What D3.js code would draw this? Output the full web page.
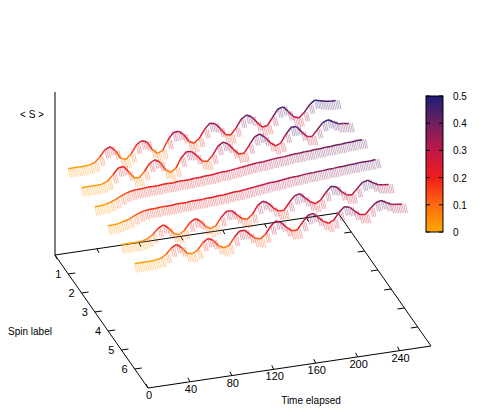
<!DOCTYPE html>
<html><head><meta charset="utf-8">
<script src="https://cdn.jsdelivr.net/npm/d3@7"></script>
<style>body{margin:0;background:#fff}text{font-family:"Liberation Sans",Arial,sans-serif;font-size:11px;fill:#000}</style>
</head><body><svg id="c" width="485" height="415"></svg>
<script>
// time samples every 5 units
const times = d3.range(0, 260, 5);
const spinLabels = [1, 2, 3, 4, 5, 6];
const timeTicks = [0, 40, 80, 120, 160, 200, 240];
const cbTicks = [0, 0.1, 0.2, 0.3, 0.4, 0.5];

const spin1 = [0.02,0.02,0.02,0.02,0.03,0.05,0.12,0.22,0.25,0.18,0.06,0.03,0.10,0.22,0.27,0.24,0.12,0.05,0.08,0.22,0.32,0.33,0.27,0.16,0.12,0.18,0.30,0.38,0.36,0.28,0.18,0.16,0.25,0.37,0.42,0.38,0.29,0.21,0.22,0.33,0.44,0.46,0.38,0.29,0.26,0.33,0.43,0.49,0.47,0.45,0.44,0.44];
const spin2 = [0.02,0.02,0.02,0.02,0.03,0.06,0.14,0.23,0.24,0.15,0.05,0.04,0.12,0.23,0.27,0.22,0.10,0.05,0.10,0.24,0.32,0.31,0.24,0.15,0.13,0.21,0.33,0.38,0.34,0.25,0.17,0.17,0.28,0.39,0.42,0.36,0.27,0.21,0.24,0.36,0.45,0.45,0.36,0.28,0.27,0.36,0.45,0.48,0.44,0.40,0.39,0.38];
const spin3 = [0.02,0.02,0.03,0.05,0.08,0.12,0.15,0.17,0.18,0.18,0.19,0.19,0.19,0.20,0.20,0.20,0.21,0.21,0.21,0.22,0.22,0.23,0.23,0.24,0.25,0.25,0.26,0.27,0.28,0.29,0.30,0.31,0.31,0.32,0.33,0.34,0.34,0.35,0.36,0.36,0.37,0.37,0.38,0.38,0.39,0.39,0.40,0.40,0.41,0.41,0.42,0.42];
const spin4 = [0.02,0.02,0.03,0.05,0.07,0.11,0.14,0.16,0.17,0.17,0.18,0.18,0.18,0.19,0.19,0.19,0.20,0.20,0.20,0.21,0.21,0.22,0.22,0.23,0.24,0.24,0.25,0.26,0.27,0.28,0.29,0.30,0.30,0.31,0.32,0.33,0.33,0.34,0.35,0.35,0.36,0.36,0.37,0.37,0.38,0.38,0.39,0.39,0.40,0.40,0.40,0.41];
const spin5 = [0.02,0.02,0.02,0.02,0.03,0.05,0.10,0.18,0.22,0.16,0.07,0.04,0.09,0.19,0.24,0.20,0.11,0.06,0.09,0.20,0.28,0.28,0.21,0.14,0.12,0.18,0.30,0.35,0.31,0.23,0.17,0.17,0.27,0.36,0.38,0.31,0.24,0.20,0.24,0.34,0.42,0.40,0.32,0.26,0.25,0.33,0.41,0.43,0.38,0.34,0.33,0.32];
const spin6 = [0.02,0.02,0.02,0.02,0.03,0.04,0.09,0.17,0.21,0.15,0.06,0.04,0.08,0.18,0.23,0.19,0.10,0.06,0.08,0.19,0.27,0.27,0.20,0.13,0.11,0.17,0.28,0.34,0.30,0.22,0.16,0.16,0.26,0.35,0.37,0.30,0.23,0.19,0.23,0.33,0.40,0.38,0.31,0.25,0.24,0.32,0.39,0.41,0.37,0.33,0.32,0.31];
const series = [spin1, spin2, spin3, spin4, spin5, spin6];

const svg = d3.select("#c");

// projected base plane: origin (time 0, spin 0) at back-left
const O = [55, 255];
const tx = d3.scaleLinear().domain([0, 270]).range([0, 283]);
const ty = d3.scaleLinear().domain([0, 270]).range([0, -42]);
const sx = d3.scaleLinear().domain([0, 7]).range([0, 93]);
const sy = d3.scaleLinear().domain([0, 7]).range([0, 133]);
const zPx = d3.scaleLinear().domain([0, 0.5]).range([104, 138]);
const proj = (t, s, z) => [O[0] + tx(t) + sx(s), O[1] + ty(t) + sy(s) - (z == null ? 0 : zPx(z))];

const color = d3.scaleLinear()
  .domain([0, 0.1, 0.2, 0.3, 0.4, 0.5])
  .range(["#ffa800", "#ff6a10", "#f01c1c", "#c01848", "#702060", "#1c1c78"])
  .clamp(true);

// axes / base plane
const line = d3.line();
const corners = [proj(0, 0), proj(270, 0), proj(270, 7), proj(0, 7)];
svg.append("path").attr("d", line([corners[3], corners[0], corners[1], corners[2], corners[3]]))
  .attr("fill", "none").attr("stroke", "#000").attr("stroke-width", 1);
svg.append("line").attr("x1", O[0]).attr("y1", O[1]).attr("x2", O[0]).attr("y2", 92)
  .attr("stroke", "#000");

// spin ticks
spinLabels.forEach(s => {
  const a = proj(0, s), c = proj(270, s);
  svg.append("line").attr("x1", a[0]).attr("y1", a[1]).attr("x2", a[0] + 7).attr("y2", a[1] - 1).attr("stroke", "#000");
  svg.append("line").attr("x1", c[0]).attr("y1", c[1]).attr("x2", c[0] - 7).attr("y2", c[1] + 1).attr("stroke", "#000");
  svg.append("text").attr("x", a[0] - 7).attr("y", a[1] + 4).attr("text-anchor", "end").text(s);
});
// time ticks
timeTicks.forEach(t => {
  const a = proj(t, 7), b = proj(t, 0);
  svg.append("line").attr("x1", a[0]).attr("y1", a[1]).attr("x2", a[0] - 2).attr("y2", a[1] - 4).attr("stroke", "#000");
  svg.append("line").attr("x1", b[0]).attr("y1", b[1]).attr("x2", b[0] + 2).attr("y2", b[1] + 4).attr("stroke", "#000");
  svg.append("text").attr("x", a[0] + 1).attr("y", a[1] + 11).attr("text-anchor", "middle").text(t);
});

// data ribbons, back to front
series.forEach((vals, i) => {
  const s = spinLabels[i];
  const g = svg.append("g");
  const pts = vals.map((v, j) => ({ v, p: proj(times[j], s, v) }));
  pts.forEach(d => {
    for (let k = 0; k < 3; k++) {
      g.append("line").attr("x1", d.p[0] + k * 1.7).attr("y1", d.p[1] - k * 0.25)
        .attr("x2", d.p[0] + k * 1.7 + 2).attr("y2", d.p[1] - k * 0.25 + 9)
        .attr("stroke", color(d.v)).attr("stroke-width", 0.6).attr("opacity", 0.6);
    }
  });
  for (let j = 1; j < pts.length; j++) {
    g.append("line").attr("x1", pts[j - 1].p[0]).attr("y1", pts[j - 1].p[1])
      .attr("x2", pts[j].p[0]).attr("y2", pts[j].p[1])
      .attr("stroke", color((pts[j - 1].v + pts[j].v) / 2)).attr("stroke-width", 1.5);
  }
});

// labels
svg.append("text").attr("x", 32).attr("y", 118).attr("text-anchor", "middle").style("font-size", "10px").text("< S >");
svg.append("text").attr("x", 30).attr("y", 335).attr("text-anchor", "middle").style("font-size", "10px").text("Spin label");
svg.append("text").attr("x", 311).attr("y", 404).attr("text-anchor", "middle").style("font-size", "10px").text("Time elapsed");

// colour box
const cb = d3.scaleLinear().domain([0, 0.5]).range([232, 96]);
const defs = svg.append("defs");
const grad = defs.append("linearGradient").attr("id", "gr").attr("x1", 0).attr("y1", 1).attr("x2", 0).attr("y2", 0);
cbTicks.forEach(v => grad.append("stop").attr("offset", v / 0.5).attr("stop-color", color(v)));
svg.append("rect").attr("x", 426).attr("y", cb(0.5)).attr("width", 17).attr("height", cb(0) - cb(0.5))
  .attr("fill", "url(#gr)").attr("stroke", "#000");
cbTicks.forEach(v => {
  svg.append("line").attr("x1", 426).attr("x2", 430).attr("y1", cb(v)).attr("y2", cb(v)).attr("stroke", "#000");
  svg.append("line").attr("x1", 439).attr("x2", 443).attr("y1", cb(v)).attr("y2", cb(v)).attr("stroke", "#000");
  svg.append("text").attr("x", 453).attr("y", cb(v) + 4).style("font-size", "10px").text(v);
});
</script></body></html>
